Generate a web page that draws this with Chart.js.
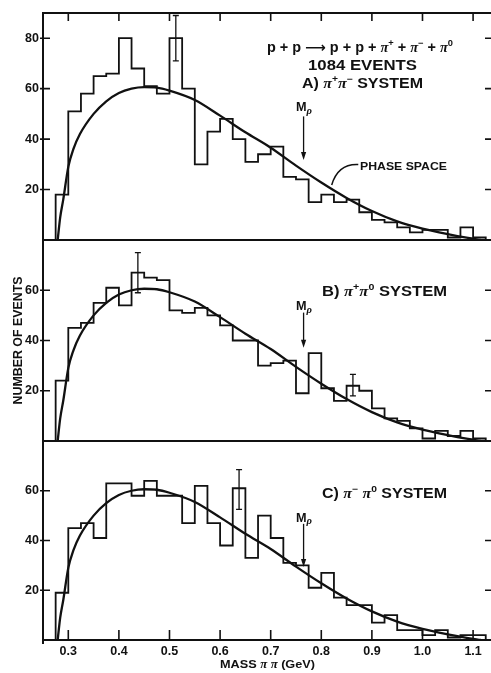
<!DOCTYPE html>
<html>
<head>
<meta charset="utf-8">
<script src="https://cdn.jsdelivr.net/npm/chart.js@4.4.1/dist/chart.umd.min.js"></script>
<style>
  html, body { margin: 0; padding: 0; background: #fff; }
  #wrap { position: relative; width: 491px; height: 673px; overflow: hidden; background: #fff; }
  #wrap canvas { position: absolute; left: 0; }
</style>
</head>
<body>
<div id="wrap">
  <canvas id="panelA" width="491" height="245" style="top:0px"></canvas>
  <canvas id="panelB" width="491" height="211" style="top:235px"></canvas>
  <canvas id="panelC" width="491" height="237" style="top:436px"></canvas>
</div>
<script>
// Bin edges of the dipion mass histograms (GeV), 25 MeV bins
const massEdges = [0.275, 0.300, 0.325, 0.350, 0.375, 0.400, 0.425, 0.450, 0.475, 0.500,
                   0.525, 0.550, 0.575, 0.600, 0.625, 0.650, 0.675, 0.700, 0.725, 0.750,
                   0.775, 0.800, 0.825, 0.850, 0.875, 0.900, 0.925, 0.950, 0.975, 1.000,
                   1.025, 1.050, 1.075, 1.100, 1.125];

// Events per bin
const countsPiPlusPiMinus = [18, 51, 58, 65, 66, 80, 68, 61, 58, 80, 60, 30, 43, 48, 40, 31, 34,
                             37, 25, 24, 15, 18, 15, 16, 11, 8, 7, 5, 3, 4, 4, 1, 5, 1];
const countsPiPlusPiZero  = [24, 45, 47, 55, 61, 54, 67, 65, 64, 52, 51, 53, 50, 46, 40, 40, 30,
                             31, 32, 19, 35, 21, 16, 22, 20, 13, 9, 8, 5, 1, 4, 2, 4, 1];
const countsPiMinusPiZero = [19, 45, 47, 41, 63, 63, 58, 64, 58, 58, 47, 62, 47, 38, 61, 33, 50,
                             41, 31, 30, 21, 27, 17, 14, 14, 7, 10, 4, 4, 2, 4, 1, 2, 2];

// Phase-space prediction (same curve for every pair)
const phaseMass  = [0.279, 0.284, 0.290, 0.300, 0.310, 0.323, 0.350, 0.375, 0.400, 0.425, 0.450,
                    0.475, 0.500, 0.550, 0.600, 0.650, 0.700, 0.750, 0.800, 0.850, 0.900, 0.950,
                    1.000, 1.050, 1.090, 1.115];
const phaseCount = [0, 9, 16, 29, 36, 42, 50, 55, 58.3, 60, 60.6, 60.4, 59.2, 55.5, 49.3, 42.7,
                    36.6, 29.5, 22.8, 16.7, 11.5, 7.4, 4.5, 2.3, 0.8, 0];

// Statistical error bars: bin centre, low, high
const errMassA = [0.5125],  errLowA = [71], errHighA = [89];
const errMassB = [0.4375, 0.8625], errLowB = [59, 18], errHighB = [75, 26.5];
const errMassC = [0.6375],  errLowC = [52.5], errHighC = [68.5];

// Axis ticks
const massTicks = [0.3, 0.4, 0.5, 0.6, 0.7, 0.8, 0.9, 1.0, 1.1];
const countTicksA = [20, 40, 60, 80];
const countTicksBC = [20, 40, 60];

const rhoMass = 0.765;
const INK = '#111';
const SANS = '"Liberation Sans", Arial, sans-serif';

function fontFor(kind, size) {
  if (kind === 'it') return `italic bold ${size}px "Liberation Serif", serif`;
  if (kind === 'sub') return `italic bold ${Math.round(size * 0.8)}px "Liberation Serif", serif`;
  if (kind === 'sup') return `bold ${Math.round(size * 0.66)}px ${SANS}`;
  if (kind === 'arr') return `bold ${size}px "DejaVu Sans", sans-serif`;
  return `bold ${size}px ${SANS}`;
}

// Draw a run of text pieces (normal / italic / superscript / subscript) squeezed to width w.
function drawRich(ctx, parts, x, y, w, size, align) {
  let total = 0;
  const widths = parts.map(([t, k]) => {
    ctx.font = fontFor(k, size);
    const m = ctx.measureText(t).width;
    total += m;
    return m;
  });
  const sx = w / total;
  const left = align === 'left' ? x : x - w / 2;
  ctx.save();
  ctx.translate(left, y);
  ctx.scale(sx, 1);
  ctx.textAlign = 'left';
  ctx.textBaseline = 'alphabetic';
  let cx = 0;
  parts.forEach(([t, k], i) => {
    ctx.font = fontFor(k, size);
    let dy = size * 0.36;
    if (k === 'sup') dy -= size * 0.42;
    if (k === 'sub') dy += size * 0.18;
    ctx.fillText(t, cx, dy);
    cx += widths[i];
  });
  ctx.restore();
}

function stepPoints(counts) {
  const pts = [{ x: massEdges[0], y: 0 }];
  counts.forEach((c, i) => pts.push({ x: massEdges[i], y: c }));
  pts.push({ x: massEdges[counts.length], y: 0 });
  return pts;
}

const panelDeco = {
  id: 'panelDeco',
  afterDatasetsDraw(chart, args, o) {
    const { ctx, chartArea: a, scales: { x, y } } = chart;
    ctx.save();
    ctx.strokeStyle = INK;
    ctx.fillStyle = INK;
    ctx.lineCap = 'butt';

    // frame
    ctx.lineWidth = 2;
    ctx.beginPath();
    ctx.moveTo(a.left, a.top - (o.frameTop ? 1 : 0));
    ctx.lineTo(a.left, a.bottom + (o.bottomTicks ? 4 : 1));
    ctx.moveTo(a.left - 1, a.bottom);
    ctx.lineTo(a.right, a.bottom);
    if (o.frameTop) {
      ctx.moveTo(a.left - 1, a.top);
      ctx.lineTo(a.right, a.top);
    }
    ctx.stroke();

    // inward ticks
    ctx.lineWidth = 1.6;
    ctx.beginPath();
    o.yTicks.forEach(v => {
      const py = y.getPixelForValue(v);
      ctx.moveTo(a.left - 3, py); ctx.lineTo(a.left + 7, py);
      ctx.moveTo(a.right, py); ctx.lineTo(a.right - 6, py);
    });
    massTicks.forEach(m => {
      const px = x.getPixelForValue(m);
      if (o.frameTop) { ctx.moveTo(px, a.top); ctx.lineTo(px, a.top + 8); }
      if (o.bottomTicks) { ctx.moveTo(px, a.bottom); ctx.lineTo(px, a.bottom - 10); }
    });
    ctx.stroke();

    // error bars
    ctx.lineWidth = 1.3;
    ctx.beginPath();
    o.err[0].forEach((m, i) => {
      const px = x.getPixelForValue(m);
      const lo = y.getPixelForValue(o.err[1][i]);
      const hi = y.getPixelForValue(o.err[2][i]);
      ctx.moveTo(px, lo); ctx.lineTo(px, hi);
      ctx.moveTo(px - 3, lo); ctx.lineTo(px + 3, lo);
      ctx.moveTo(px - 3, hi); ctx.lineTo(px + 3, hi);
    });
    ctx.stroke();

    // rho mass marker
    const rx = x.getPixelForValue(rhoMass);
    const r0 = y.getPixelForValue(o.rho[1]);
    const r1 = y.getPixelForValue(o.rho[2]);
    ctx.lineWidth = 1.3;
    ctx.beginPath();
    ctx.moveTo(rx, r0); ctx.lineTo(rx, r1 - 5);
    ctx.stroke();
    ctx.beginPath();
    ctx.moveTo(rx, r1); ctx.lineTo(rx - 2.6, r1 - 8); ctx.lineTo(rx + 2.6, r1 - 8); ctx.closePath();
    ctx.fill();
    drawRich(ctx, [['M', ''], ['ρ', 'sub']], x.getPixelForValue(0.7499), y.getPixelForValue(o.rho[0]), 16, 12, 'left');

    // text blocks
    o.texts.forEach(t => {
      drawRich(ctx, t.parts, x.getPixelForValue(t.m), y.getPixelForValue(t.v), t.w, t.size, 'left');
    });

    // phase-space leader
    if (o.leader) {
      const L = o.leader;
      ctx.lineWidth = 1.5;
      ctx.beginPath();
      ctx.moveTo(x.getPixelForValue(L[0]), y.getPixelForValue(L[1]));
      ctx.quadraticCurveTo(x.getPixelForValue(L[2]), y.getPixelForValue(L[3]),
                           x.getPixelForValue(L[4]), y.getPixelForValue(L[5]));
      ctx.stroke();
    }

    // axis titles
    if (o.yTitle) {
      ctx.save();
      ctx.translate(a.left - 26, y.getPixelForValue(40));
      ctx.rotate(-Math.PI / 2);
      drawRich(ctx, [['NUMBER OF EVENTS', '']], 0, 0, 128, 13, 'center');
      ctx.restore();
    }
    if (o.xTitle) {
      drawRich(ctx, [['MASS ', ''], ['π', 'it'], [' ', ''], ['π', 'it'], [' (GeV)', '']],
               x.getPixelForValue(0.5998), a.bottom + 24, 95, 11.5, 'left');
    }
    ctx.restore();
  }
};

function makePanel(id, counts, deco) {
  const tickFont = { family: SANS, weight: 'bold', size: 12.5 };
  const showX = !!deco.bottomTicks;
  return new Chart(document.getElementById(id), {
    type: 'line',
    data: {
      datasets: [
        {
          data: stepPoints(counts), stepped: true, borderColor: INK, borderWidth: 1.8,
          pointRadius: 0, fill: false, tension: 0
        },
        {
          data: phaseMass.map((m, i) => ({ x: m, y: phaseCount[i] })),
          borderColor: INK, borderWidth: 2.3, pointRadius: 0, fill: false,
          cubicInterpolationMode: 'monotone'
        }
      ]
    },
    options: {
      responsive: false,
      animation: false,
      devicePixelRatio: 1,
      layout: { padding: { top: deco.padTop, bottom: deco.padBottom, left: 0, right: 0 } },
      plugins: { legend: { display: false }, tooltip: { enabled: false }, panelDeco: deco },
      scales: {
        x: {
          type: 'linear', min: 0.25, max: 1.1354, display: showX,
          grid: { display: false, drawTicks: false }, border: { display: false },
          afterBuildTicks: s => { s.ticks = massTicks.map(v => ({ value: v })); },
          afterFit: s => {
            if (showX) s.height = 33;
            s.paddingLeft = 0; s.paddingRight = 0;
          },
          ticks: {
            autoSkip: false, maxRotation: 0, padding: 4, color: INK, font: tickFont,
            callback: v => Number(v).toFixed(1)
          }
        },
        y: {
          type: 'linear', min: 0, max: deco.yMax,
          grid: { display: false, drawTicks: false }, border: { display: false },
          afterBuildTicks: s => { s.ticks = deco.yTicks.map(v => ({ value: v })); },
          afterFit: s => { s.width = 43; s.paddingTop = 0; s.paddingBottom = 0; },
          ticks: { padding: 4, color: INK, font: tickFont }
        }
      }
    },
    plugins: [panelDeco]
  });
}

makePanel('panelA', countsPiPlusPiMinus, {
  padTop: 13, padBottom: 5, yMax: 90, yTicks: countTicksA, frameTop: true,
  err: [errMassA, errLowA, errHighA],
  rho: [52.7, 49.0, 31.7],
  texts: [
    { parts: [['p + p ', ''], ['⟶', 'arr'], [' p + p + ', ''], ['π', 'it'], ['+', 'sup'], [' + ', ''],
              ['π', 'it'], ['−', 'sup'], [' + ', ''], ['π', 'it'], ['0', 'sup']],
      m: 0.6927, v: 76.5, w: 186, size: 14 },
    { parts: [['1084 EVENTS', '']], m: 0.7737, v: 69.4, w: 109, size: 14 },
    { parts: [['A) ', ''], ['π', 'it'], ['+', 'sup'], ['π', 'it'], ['−', 'sup'], [' SYSTEM', '']],
      m: 0.7618, v: 62.2, w: 121, size: 14 },
    { parts: [['PHASE SPACE', '']], m: 0.8765, v: 29.5, w: 87, size: 11 }
  ],
  leader: [0.8731, 29.9, 0.833, 30.3, 0.8206, 21.8]
});

makePanel('panelB', countsPiPlusPiZero, {
  padTop: 5, padBottom: 5, yMax: 80, yTicks: countTicksBC, yTitle: true,
  err: [errMassB, errLowB, errHighB],
  rho: [53.7, 51.1, 37.1],
  texts: [
    { parts: [['B) ', ''], ['π', 'it'], ['+', 'sup'], ['π', 'it'], ['0', 'sup'], [' SYSTEM', '']],
      m: 0.8014, v: 59.6, w: 125, size: 14 }
  ]
});

makePanel('panelC', countsPiMinusPiZero, {
  padTop: 5, padBottom: 0, yMax: 80, yTicks: countTicksBC, bottomTicks: true, xTitle: true,
  err: [errMassC, errLowC, errHighC],
  rho: [49.3, 46.7, 29.3],
  texts: [
    { parts: [['C) ', ''], ['π', 'it'], ['−', 'sup'], [' ', ''], ['π', 'it'], ['0', 'sup'], [' SYSTEM', '']],
      m: 0.8014, v: 59.3, w: 125, size: 14 }
  ]
});
</script>
</body>
</html>
